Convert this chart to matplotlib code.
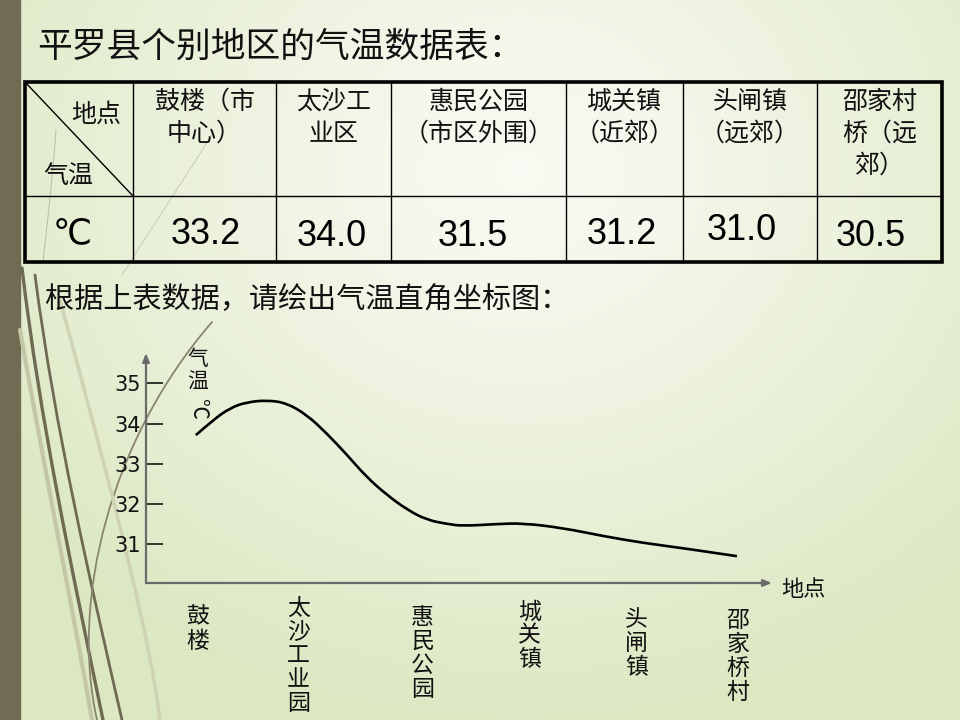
import matplotlib.pyplot as plt
import matplotlib.transforms as mtransforms
import numpy as np
from matplotlib.path import Path
from matplotlib.patches import PathPatch, Rectangle

plt.rcParams['font.family'] = ['Noto Sans CJK SC', 'DejaVu Sans']

# ---- data ----
title = "平罗县个别地区的气温数据表："
prompt = "根据上表数据，请绘出气温直角坐标图："
col_headers = [["鼓楼（市", "中心）"],
               ["太沙工", "业区"],
               ["惠民公园", "（市区外围）"],
               ["城关镇", "（近郊）"],
               ["头闸镇", "（远郊）"],
               ["邵家村", "桥（远", "郊）"]]
temps = [33.2, 34.0, 31.5, 31.2, 31.0, 30.5]
places = ["鼓楼", "太沙工业园", "惠民公园", "城关镇", "头闸镇", "邵家桥村"]
place_pos = [0.0, 0.93, 2.08, 3.07, 4.06, 5.0]
y_ticks = [31, 32, 33, 34, 35]

# hand-drawn curve
curve_x = [-0.02, 0.14, 0.30, 0.45, 0.64, 0.82, 1.01, 1.19, 1.38, 1.56, 1.75,
           1.94, 2.12, 2.31, 2.45, 2.77, 3.01, 3.38, 3.75, 4.12, 4.49, 4.99]
curve_y = [33.71, 34.09, 34.39, 34.53, 34.58, 34.51, 34.21, 33.76, 33.22, 32.67, 32.22,
           31.85, 31.60, 31.50, 31.45, 31.50, 31.52, 31.40, 31.20, 31.03, 30.90, 30.70]

W, H = 960, 720
fig = plt.figure(figsize=(9.6, 7.2), dpi=100)

# background (pixel coordinates)
bg = fig.add_axes([0, 0, 1, 1])
bg.set_xlim(0, W)
bg.set_ylim(H, 0)
bg.axis('off')

yy, xx = np.mgrid[0:H, 0:W]
d = np.clip(np.hypot((xx - 520) / 650, (yy - 170) / 560), 0, 1) ** 1.2
c0 = np.array([0.975, 0.98, 0.95])
c1 = np.array([0.86, 0.91, 0.76])
img = c0[None, None, :] * (1 - d[..., None]) + c1[None, None, :] * d[..., None]
bg.imshow(img, extent=(0, W, H, 0), aspect='auto', zorder=0)

bg.add_patch(Rectangle((0, 0), 20, H, color='#706b52', zorder=1))


def deco(verts, codes, color, lw, alpha=1.0):
    bg.add_patch(PathPatch(Path(verts, codes), fill=False, edgecolor=color,
                           lw=lw, alpha=alpha, zorder=1, capstyle='round'))


C4 = [Path.MOVETO, Path.CURVE4, Path.CURVE4, Path.CURVE4]
deco([(20, 330), (50, 500), (75, 620), (92, 720)], C4, '#c3c7a6', 3)
deco([(22, 268), (40, 420), (70, 560), (103, 720)], C4, '#6f6a52', 2.4)
deco([(35, 275), (55, 430), (90, 580), (122, 720)], C4, '#6f6a52', 2.0)
deco([(212, 322), (110, 440), (70, 600), (97, 720)], C4, '#8a856e', 1.3)
deco([(60, 300), (120, 520), (150, 640), (160, 720)], C4, '#cfd3b4', 2.5)
deco([(43, 262), (50, 200), (54, 160), (56, 130)], C4, '#9a9a90', 0.7, 0.6)
deco([(122, 275), (150, 230), (190, 170), (213, 133)], C4, '#b0b0a0', 0.7, 0.6)

# ---- titles ----
bg.text(37, 47, title, fontsize=25, va='center', ha='left', color='#111111', zorder=3)
bg.text(45, 300, prompt, fontsize=21, va='center', ha='left', color='#111111', zorder=3)

# ---- table ----
col_edges = [25, 133, 276, 391, 566, 683, 817, 942]
top, mid, bottom = 82, 196, 262
num_xy = [(206, 234), (332, 237), (473, 236), (622, 234), (742, 231), (871, 237)]
for xe in col_edges[1:-1]:
    bg.plot([xe, xe], [top, bottom], color='black', lw=1.0, zorder=3)
bg.plot([col_edges[0], col_edges[-1]], [mid, mid], color='black', lw=1.0, zorder=3)
bg.add_patch(Rectangle((col_edges[0], top), col_edges[-1] - col_edges[0], bottom - top,
                       fill=False, edgecolor='black', lw=2.6, zorder=4))
bg.plot([col_edges[0], col_edges[1]], [top, mid], color='black', lw=1.0, zorder=3)
bg.text(96, 115, "地点", fontsize=18, ha='center', va='center', color='#111111', zorder=3)
bg.text(68, 176, "气温", fontsize=18, ha='center', va='center', color='#111111', zorder=3)
bg.text(72, 234, "℃", fontsize=25, ha='center', va='center', color='black',
        family=['Liberation Sans', 'DejaVu Sans'], zorder=3)

for i, lines in enumerate(col_headers):
    cx = (col_edges[i + 1] + col_edges[i + 2]) / 2
    for j, line in enumerate(lines):
        bg.text(cx, 102 + 32 * j, line, fontsize=18, ha='center', va='center',
                color='#111111', zorder=3)
    bg.text(num_xy[i][0], num_xy[i][1], f"{temps[i]:.1f}", fontsize=26, ha='center',
            va='center', color='black', family=['Liberation Sans', 'DejaVu Sans'], zorder=3)

# ---- chart ----
px_left, px_right, px_bottom, px_top = 146, 772, 583, 353
x0_px, x_scale = 198, 108.0       # pixel of first place, pixels per unit
y35_px, y_scale = 383.3, 40.2     # pixel of 35 on the axis, pixels per degree
ax = fig.add_axes([px_left / W, 1 - px_bottom / H,
                   (px_right - px_left) / W, (px_bottom - px_top) / H])
ax.set_xlim((px_left - x0_px) / x_scale, (px_right - x0_px) / x_scale)
ax.set_ylim(35 - (px_bottom - y35_px) / y_scale, 35 + (y35_px - px_top) / y_scale)
ax.patch.set_visible(False)
for s in ax.spines.values():
    s.set_visible(False)

# smooth curve: quadratic Bezier segments using the read points as controls
pts = list(zip(curve_x, curve_y))
verts = [pts[0]]
codes = [Path.MOVETO]
for i in range(1, len(pts) - 1):
    nxt = pts[i + 1] if i == len(pts) - 2 else ((pts[i][0] + pts[i + 1][0]) / 2,
                                                (pts[i][1] + pts[i + 1][1]) / 2)
    verts += [pts[i], nxt]
    codes += [Path.CURVE3, Path.CURVE3]
ax.add_patch(PathPatch(Path(verts, codes), fill=False, edgecolor='black', lw=1.9,
                       capstyle='butt', zorder=3))

ax.set_xticks([])
ax.set_yticks(y_ticks)
ax.set_yticklabels([str(t) for t in y_ticks], fontsize=15,
                   family=['DejaVu Sans'], color='#111111')
ax.tick_params(axis='y', direction='in', length=12, width=1.1, pad=4, color='black')

arrow = dict(arrowstyle='-|>,head_length=0.5,head_width=0.2', color='#6a6a6a', lw=1.6,
             shrinkA=0, shrinkB=0)
ax.annotate('', xy=(0, 1), xytext=(0, 0), xycoords='axes fraction', arrowprops=arrow)
ax.annotate('', xy=(1, 0), xytext=(0, 0), xycoords='axes fraction', arrowprops=arrow)

bg.text(804, 590, "地点", fontsize=16, ha='center', va='center', color='#111111', zorder=3)
for k, ch in enumerate("气温"):
    bg.text(198, 359 + 23 * k, ch, fontsize=15, ha='center', va='center',
            color='#111111', zorder=3)
bg.text(198, 409, "℃", fontsize=15, ha='center', va='center', rotation=-90,
        color='#111111', zorder=3)

# vertical place labels: x from the chart's data scale, y in pixels
trans = mtransforms.blended_transform_factory(ax.transData, bg.transData)
label_top = [617, 608, 617, 612, 620, 620]
for pos, name, t0 in zip(place_pos, places, label_top):
    for k, ch in enumerate(name):
        ax.text(pos, t0 + 24 * k, ch, transform=trans, fontsize=16.5, ha='center',
                va='center', color='#111111', clip_on=False)

fig.savefig('out.png', dpi=100)
